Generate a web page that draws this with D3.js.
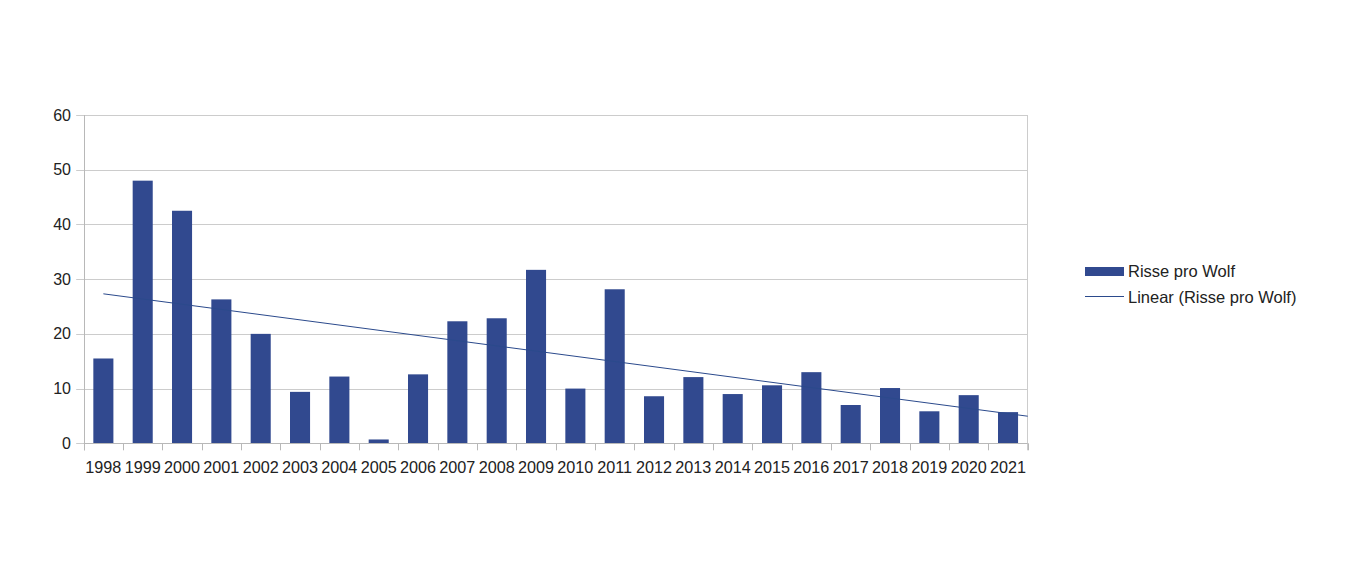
<!DOCTYPE html>
<html>
<head>
<meta charset="utf-8">
<script src="https://cdn.jsdelivr.net/npm/d3@7"></script>
<style>
  html, body { margin: 0; padding: 0; background: #fff; }
  svg { display: block; }
  text { font-family: "Liberation Sans", Arial, sans-serif; fill: #222; }
</style>
</head>
<body>
<svg id="chart" width="1345" height="585"></svg>
<script>
const years = ["1998","1999","2000","2001","2002","2003","2004","2005","2006","2007","2008","2009",
               "2010","2011","2012","2013","2014","2015","2016","2017","2018","2019","2020","2021"];
const rissePerWolf = [15.5, 48, 42.5, 26.3, 20, 9.4, 12.2, 0.7, 12.6, 22.3, 22.85, 31.7,
                      10, 28.15, 8.6, 12.1, 9, 10.6, 13, 7, 10.1, 5.85, 8.8, 5.7];
const yTicks = [0, 10, 20, 30, 40, 50, 60];
const seriesName = "Risse pro Wolf";
const trendName = "Linear (Risse pro Wolf)";

const barColor = "#31498f";
const gridColor = "#cccccc";
const axisColor = "#b8b8b8";

const svg = d3.select("#chart");
const plotL = 83.7, plotR = 1027.7, plotT = 115, plotB = 443.3;

const x = d3.scaleBand().domain(years).range([plotL, plotR]).paddingInner(0.49).paddingOuter(0.245);
const y = d3.scaleLinear().domain([0, 60]).range([plotB, plotT]);

// gridlines
svg.append("g").selectAll("line").data(yTicks).join("line")
  .attr("x1", plotL - 7.5).attr("x2", plotR)
  .attr("y1", d => Math.round(y(d)) + 0.5).attr("y2", d => Math.round(y(d)) + 0.5)
  .attr("stroke", gridColor).attr("stroke-width", 1);

// right border
svg.append("line").attr("x1", Math.round(plotR) - 0.5).attr("x2", Math.round(plotR) - 0.5)
  .attr("y1", plotT).attr("y2", plotB + 7).attr("stroke", gridColor);

// left axis line
svg.append("line").attr("x1", Math.round(plotL) + 0.5).attr("x2", Math.round(plotL) + 0.5)
  .attr("y1", plotT).attr("y2", plotB + 7).attr("stroke", axisColor);

// y labels
svg.append("g").selectAll("text").data(yTicks).join("text")
  .attr("x", 71).attr("y", d => y(d)).attr("dy", "0.35em")
  .attr("text-anchor", "end").style("font-size", "16px").text(d => d);

// bars
svg.append("g").selectAll("rect").data(rissePerWolf).join("rect")
  .attr("x", (d, i) => x(years[i]))
  .attr("width", x.bandwidth())
  .attr("y", d => y(d))
  .attr("height", d => y(0) - y(d))
  .attr("fill", barColor);

// bottom axis line and ticks at band boundaries
svg.append("line").attr("x1", plotL).attr("x2", plotR)
  .attr("y1", Math.round(plotB) + 0.5).attr("y2", Math.round(plotB) + 0.5)
  .attr("stroke", axisColor);
const step = x.step();
const bounds = d3.range(years.length + 1).map(i => plotL + i * step);
svg.append("g").selectAll("line").data(bounds).join("line")
  .attr("x1", d => Math.round(d) + 0.5).attr("x2", d => Math.round(d) + 0.5)
  .attr("y1", plotB).attr("y2", plotB + 7)
  .attr("stroke", axisColor);

// x labels
svg.append("g").selectAll("text").data(years).join("text")
  .attr("x", d => x(d) + x.bandwidth() / 2).attr("y", 467).attr("dy", "0.35em")
  .attr("text-anchor", "middle").style("font-size", "16.2px").text(d => d);

// linear trend (least squares)
const n = rissePerWolf.length;
const xs = d3.range(n);
const mx = d3.mean(xs), my = d3.mean(rissePerWolf);
const slope = d3.sum(xs, i => (i - mx) * (rissePerWolf[i] - my)) / d3.sum(xs, i => (i - mx) ** 2);
const icpt = my - slope * mx;
const xIdx = d3.scaleLinear().domain([0, n - 1]).range([x(years[0]) + x.bandwidth() / 2, x(years[n - 1]) + x.bandwidth() / 2]);
const tEnd = xIdx.invert(plotR);
svg.append("line")
  .attr("x1", xIdx(0)).attr("y1", y(icpt))
  .attr("x2", xIdx(tEnd)).attr("y2", y(icpt + slope * tEnd))
  .attr("stroke", "#2b4a8c").attr("stroke-width", 1);

// legend
const lg = svg.append("g");
lg.append("rect").attr("x", 1085).attr("y", 267).attr("width", 39).attr("height", 9).attr("fill", barColor);
lg.append("text").attr("x", 1128).attr("y", 271.5).attr("dy", "0.35em").style("font-size", "16.5px").text(seriesName);
lg.append("line").attr("x1", 1085).attr("x2", 1124).attr("y1", 296.5).attr("y2", 296.5)
  .attr("stroke", "#2b4a8c").attr("stroke-width", 1);
lg.append("text").attr("x", 1128).attr("y", 297).attr("dy", "0.35em").style("font-size", "16.5px").text(trendName);
</script>
</body>
</html>
